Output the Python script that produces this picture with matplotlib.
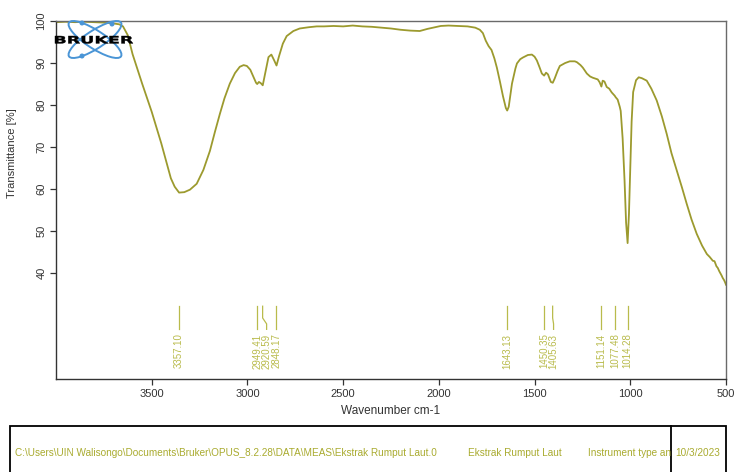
import matplotlib
matplotlib.use("Agg")
import matplotlib.pyplot as plt
from matplotlib.patches import Ellipse, Circle, PathPatch, Rectangle
from matplotlib.textpath import TextPath
from matplotlib.font_manager import FontProperties
from matplotlib.transforms import Affine2D
from matplotlib.lines import Line2D

plt.rcParams['font.family'] = ['Liberation Sans', 'DejaVu Sans']

# FTIR spectrum: wavenumber (cm-1) and transmittance (%)
wavenumber = [
    4000, 3950, 3900, 3850, 3800, 3750, 3700, 3670, 3650, 3625, 3600, 3550,
    3500, 3450, 3400, 3380, 3357, 3330, 3300, 3265, 3230, 3196, 3170, 3144,
    3120, 3092, 3065, 3040, 3020, 3003, 2985, 2965, 2955, 2949, 2940, 2930,
    2920, 2905, 2890, 2875, 2860, 2848, 2835, 2815, 2795, 2760, 2727, 2680,
    2638, 2600, 2550, 2500, 2450, 2400, 2350, 2300, 2250, 2200, 2150, 2100,
    2060, 2020, 1990, 1950, 1900, 1850, 1810, 1786, 1770, 1755, 1740, 1725,
    1710, 1697, 1681, 1665, 1650, 1643, 1635, 1618, 1600, 1592, 1575, 1561,
    1535, 1514, 1500, 1488, 1475, 1462, 1450, 1440, 1430, 1415, 1405, 1395,
    1380, 1368, 1340, 1316, 1290, 1279, 1260, 1248, 1227, 1210, 1196, 1170,
    1160, 1151, 1144, 1135, 1123, 1110, 1097, 1081, 1077, 1066, 1055, 1050,
    1040, 1030, 1022, 1014, 1007, 1000, 993, 985, 970, 956, 940, 914,
    890, 862, 835, 810, 785, 757, 730, 705, 680, 653, 625, 600,
    585, 569, 560, 555, 550, 543, 535, 530, 523, 517, 510, 505, 500,
]
transmittance = [
    99.6, 99.7, 99.6, 99.7, 99.6, 99.5, 99.3, 99.1, 98.6, 96.5, 92.0, 85.0,
    78.3, 70.8, 62.5, 60.5, 59.1, 59.2, 59.8, 61.2, 64.5, 69.0, 73.5, 77.8,
    81.5, 85.0, 87.5, 89.0, 89.4, 89.2, 88.3, 86.2, 85.2, 84.9, 85.4, 85.1,
    84.6, 88.0, 91.3, 91.9, 90.5, 89.3, 91.5, 94.5, 96.3, 97.5, 98.1, 98.4,
    98.6, 98.6, 98.7, 98.6, 98.8, 98.6, 98.5, 98.3, 98.1, 97.8, 97.6, 97.5,
    98.0, 98.4, 98.7, 98.8, 98.7, 98.6, 98.3, 97.8, 97.0, 95.2, 93.9, 93.0,
    91.0, 88.8, 85.5, 82.0, 79.2, 78.6, 79.5, 85.0, 88.6, 89.8, 90.8, 91.2,
    91.8, 91.9, 91.4, 90.5, 89.0, 87.4, 86.9, 87.6, 87.2, 85.4, 85.2, 86.2,
    88.0, 89.2, 89.9, 90.3, 90.3, 90.1, 89.4, 88.8, 87.4, 86.7, 86.4, 86.0,
    85.3, 84.3, 85.7, 85.5, 84.2, 83.8, 82.9, 82.1, 81.8, 81.2, 79.5, 78.5,
    72.0, 62.0, 52.0, 47.1, 54.0, 65.0, 76.0, 83.0, 85.8, 86.5, 86.3, 85.7,
    83.8, 81.0, 77.2, 73.1, 68.5, 64.3, 60.3, 56.4, 52.7, 49.3, 46.5, 44.5,
    43.8, 42.9, 42.8, 42.2, 41.6, 41.2, 40.4, 40.0, 39.4, 38.8, 38.3, 37.8, 37.2,
]

# Peak picks
peak_wn = [3357.10, 2949.41, 2920.59, 2848.17, 1643.13, 1450.35, 1405.63,
           1151.14, 1077.48, 1014.28]
peak_labels = ["3357.10", "2949.41", "2920.59", "2848.17", "1643.13",
               "1450.35", "1405.63", "1151.14", "1077.48", "1014.28"]

x_ticks = [3500, 3000, 2500, 2000, 1500, 1000, 500]
y_ticks = [40, 50, 60, 70, 80, 90, 100]

footer_path = r"C:\Users\UIN Walisongo\Documents\Bruker\OPUS_8.2.28\DATA\MEAS\Ekstrak Rumput Laut.0"
footer_sample = "Ekstrak Rumput Laut"
footer_instr = "Instrument type an"
footer_date = "10/3/2023"

W, H = 738, 472
fig = plt.figure(figsize=(W / 100, H / 100), dpi=100)
fig.patch.set_facecolor("white")

ax = fig.add_axes([56 / W, 1 - 379 / H, (726 - 56) / W, (379 - 20.5) / H])
XMAX, XMIN = 4000, 500
YMIN, YMAX = 14.8, 100
ax.set_xlim(XMAX, XMIN)
ax.set_ylim(YMIN, YMAX)

curve_color = "#9c9a2e"
label_color = "#b9bb4c"
ax.plot(wavenumber, transmittance, color=curve_color, lw=1.3, solid_joinstyle="round")

# axis styling
for s in ax.spines.values():
    s.set_color("#6a6a6a")
    s.set_linewidth(1.0)
ax.spines["left"].set_color("#333333")
ax.spines["bottom"].set_color("#333333")
ax.set_xticks(x_ticks)
ax.set_yticks(y_ticks)
ax.tick_params(axis="both", direction="out", length=4, width=0.9,
               colors="#333333", labelsize=8, labelcolor="#333333")
ax.tick_params(axis="y", pad=3)
for lbl in ax.get_yticklabels():
    lbl.set_rotation(90)
    lbl.set_va("center")
ax.set_xlabel("Wavenumber cm-1", fontsize=8.5, color="#333333", labelpad=4)
ax.set_ylabel("Transmittance [%]", fontsize=8, color="#333333", labelpad=4)
ax.yaxis.set_label_coords(-0.058, 0.63)

# peak markers: spread labels so they keep a minimum gap
px_per_wn = (726 - 56) / (XMAX - XMIN)
min_gap = 9.5 / px_per_wn
text_pos = []
for w in peak_wn:
    if text_pos and text_pos[-1] - w < min_gap:
        text_pos.append(text_pos[-1] - min_gap)
    else:
        text_pos.append(w)

y_top, y_bend1, y_bend2, y_bot, y_txt = 32.1, 29.3, 27.9, 26.6, 25.6
for w, tp, lab in zip(peak_wn, text_pos, peak_labels):
    ax.add_line(Line2D([w, w, tp, tp], [y_top, y_bend1, y_bend2, y_bot],
                       color=label_color, lw=0.9))
    ax.text(tp, y_txt, lab, rotation=90, ha="center", va="top",
            fontsize=7, color=label_color)

# logo in pixel coordinates
pix = Affine2D().scale(1 / 100) + fig.dpi_scale_trans
logo_blue = "#4a95d6"
cx, cy = 95, H - 39.5
for ang in (33, -33):
    fig.patches.append(Ellipse((cx, cy), 62, 18, angle=ang, fill=False,
                               ec=logo_blue, lw=1.4, transform=pix))
for dx, dy in ((82, 23), (82, 56), (112, 24)):
    fig.patches.append(Circle((dx, H - dy), 1.8, color=logo_blue, transform=pix))

tp_logo = TextPath((0, 0), "BRUKER", size=10,
                   prop=FontProperties(family="DejaVu Sans", weight="bold"))
ext = tp_logo.get_extents()
sx = 78 / ext.width
sy = 7.5 / ext.height
logo_tf = (Affine2D().translate(-ext.x0, -ext.y0).scale(sx, sy)
           .translate(55, H - 43.5)) + pix
fig.patches.append(PathPatch(tp_logo, fc="black", ec="black", lw=0.3,
                             transform=logo_tf))

# footer info box
footer_color = "#a9ab2f"
fig.patches.append(Rectangle((10, -10), 716, H - 426 + 10, fill=False,
                             ec="black", lw=1.3, transform=pix))
fig.add_artist(Line2D([671, 671], [0, H - 426], color="black", lw=1.3,
                      transform=pix))
fy = (H - 453) / H
fig.text(15 / W, fy, footer_path, fontsize=7.2, color=footer_color, va="center")
fig.text(468 / W, fy, footer_sample, fontsize=7.2, color=footer_color, va="center")
fig.text(588 / W, fy, footer_instr, fontsize=7.2, color=footer_color, va="center")
fig.text(675 / W, fy, footer_date, fontsize=7.2, color=footer_color, va="center")

fig.savefig("out.png", dpi=100)
